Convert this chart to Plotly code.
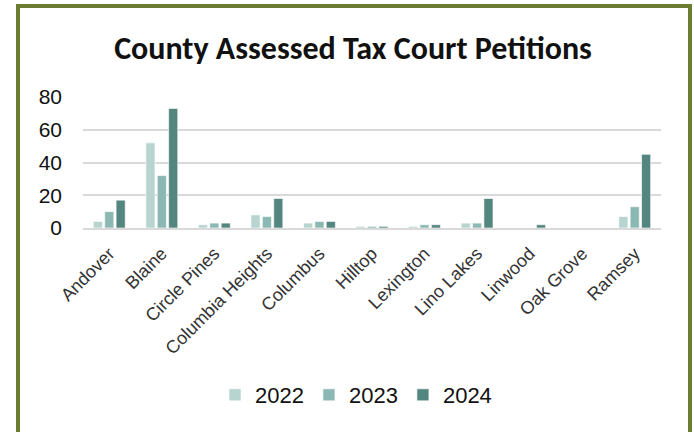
import plotly.graph_objects as go

cities = ["Andover", "Blaine", "Circle Pines", "Columbia Heights", "Columbus",
          "Hilltop", "Lexington", "Lino Lakes", "Linwood", "Oak Grove", "Ramsey"]
petitions_2022 = [4, 52, 2, 8, 3, 1, 1, 3, 0, 0, 7]
petitions_2023 = [10, 32, 3, 7, 4, 1, 2, 3, 0, 0, 13]
petitions_2024 = [17, 73, 3, 18, 4, 1, 2, 18, 2, 0, 45]
years = ["2022", "2023", "2024"]
y_ticks = [0, 20, 40, 60, 80]

colors = {"2022": "#b7d4d1", "2023": "#8cb8b3", "2024": "#548680"}

W, H = 694, 432
L, R, T, B = 83, 33, 97, 204
pw, ph = W - L - R, H - T - B


def px_x(x):
    return (x - L) / pw


def px_y(y):
    return (H - B - y) / ph


fig = go.Figure()
for yr, vals in zip(years, [petitions_2022, petitions_2023, petitions_2024]):
    fig.add_trace(go.Bar(
        x=cities, y=vals, name=yr,
        marker=dict(color=colors[yr], line=dict(color="white", width=0.6)),
    ))

fig.update_layout(
    width=W, height=H,
    margin=dict(l=L, r=R, t=T, b=B),
    paper_bgcolor="white", plot_bgcolor="white",
    barmode="group", bargap=0.35, bargroupgap=0.2,
    font=dict(family="Liberation Sans, Arial, sans-serif", color="#1a1a1a"),
    title=dict(
        text="<b>County Assessed Tax Court Petitions</b>",
        font=dict(family="Carlito, Liberation Sans Narrow, Open Sans, sans-serif",
                  size=32, color="#111111"),
        x=353 / W, xref="container", xanchor="center",
        y=1 - 48 / H, yref="container", yanchor="middle",
    ),
    xaxis=dict(
        tickangle=-45, tickfont=dict(size=18, color="#333333"),
        showgrid=False, showline=True, linecolor="#d9d9d9", linewidth=2,
        ticks="", ticklabelstandoff=6, automargin=False,
    ),
    yaxis=dict(
        range=[0, 80], tickvals=y_ticks, tickfont=dict(size=21, color="#111111"),
        showgrid=True, gridcolor="#d9d9d9", gridwidth=2,
        zeroline=False, showline=False, ticks="", ticklabelstandoff=20,
        automargin=False,
    ),
    legend=dict(
        orientation="h", x=px_x(356), xanchor="center",
        y=px_y(395), yanchor="middle",
        font=dict(size=22, color="#111111"),
        itemwidth=30, traceorder="normal",
    ),
    shapes=[dict(
        type="rect", xref="paper", yref="paper",
        x0=px_x(18), x1=px_x(690), y0=px_y(6), y1=px_y(445),
        line=dict(color="#6b7d33", width=4), fillcolor="rgba(0,0,0,0)",
        layer="above",
    )],
)

fig.write_html("out.html")
